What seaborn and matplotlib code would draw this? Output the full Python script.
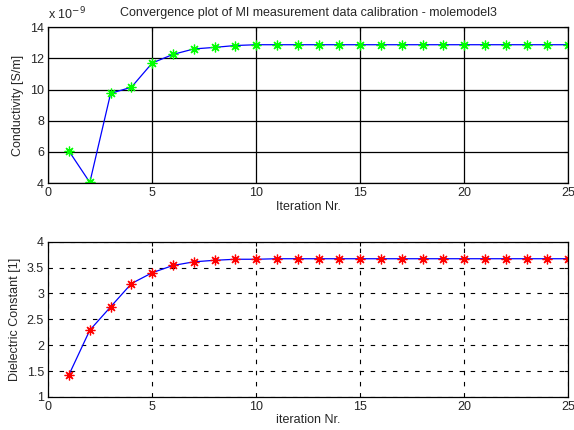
import matplotlib
matplotlib.use('Agg')
import matplotlib.pyplot as plt
import numpy as np
import pandas as pd
import seaborn as sns

iterations = list(range(1, 26))
conductivity_e9 = [6.05, 4.05, 9.75, 10.15, 11.7, 12.25, 12.6, 12.7, 12.82, 12.87] + [12.87] * 15
dielectric = [1.43, 2.29, 2.74, 3.19, 3.40, 3.54, 3.61, 3.64, 3.66, 3.66] + [3.67] * 15

sns.set_style('white')
plt.rcParams['font.family'] = ['Liberation Sans', 'DejaVu Sans']
plt.rcParams['font.size'] = 9

df = pd.DataFrame({'it': iterations,
                   'cond': np.array(conductivity_e9) * 1e-9,
                   'eps': dielectric})

fig = plt.figure(figsize=(5.74, 4.30), dpi=100)
ax1 = fig.add_axes([0.084, 0.574, 0.906, 0.363])
ax2 = fig.add_axes([0.084, 0.077, 0.906, 0.361])

# matlab style '*' marker: 8-spoke asterisk
star = (8, 2, 0)
sns.lineplot(data=df, x='it', y='cond', ax=ax1, color='blue', lw=0.9,
             marker=star, markersize=7, markeredgewidth=0.9, markeredgecolor='lime')
sns.lineplot(data=df, x='it', y='eps', ax=ax2, color='blue', lw=0.9,
             marker=star, markersize=7, markeredgewidth=0.9, markeredgecolor='red')

ax1.set_xlim(0, 25)
ax1.set_ylim(4e-9, 14e-9)
ax1.set_yticks(np.arange(4, 15, 2) * 1e-9)
ax1.set_yticklabels([str(v) for v in range(4, 15, 2)])
ax1.set_xticks(range(0, 26, 5))
ax1.grid(True, color='black', lw=0.9, ls='-')
ax1.set_xlabel('Iteration Nr.', labelpad=1)
ax1.set_ylabel('Conductivity [S/m]')
ax1.set_title('Convergence plot of MI measurement data calibration - molemodel3', fontsize=9, pad=8)
ax1.text(0, 1.03, 'x 10$^{-9}$', transform=ax1.transAxes, fontsize=9, ha='left', va='bottom')

ax2.set_xlim(0, 25)
ax2.set_ylim(1, 4)
ax2.set_xticks(range(0, 26, 5))
ax2.set_yticks(np.arange(1, 4.01, 0.5))
ax2.set_yticklabels(['1', '1.5', '2', '2.5', '3', '3.5', '4'])
ax2.grid(True, color='black', lw=0.8, ls=(0, (4, 6)))
ax2.set_xlabel('iteration Nr.', labelpad=1)
ax2.set_ylabel('Dielectric Constant [1]')

for ax in (ax1, ax2):
    for s in ax.spines.values():
        s.set_color('black')
        s.set_linewidth(0.9)
    ax.tick_params(direction='in', length=3, color='black', labelsize=9, pad=3,
                   top=True, right=True)
    ax.set_axisbelow(True)

fig.savefig('out.png', dpi=100)
